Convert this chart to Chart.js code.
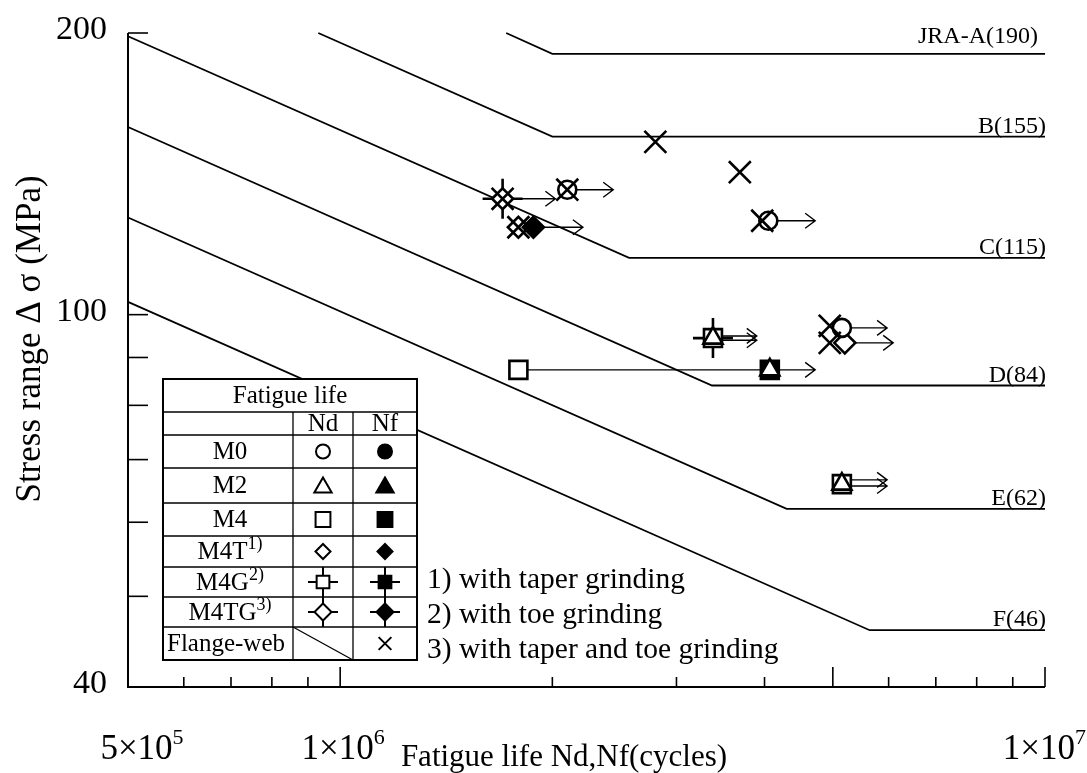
<!DOCTYPE html>
<html><head><meta charset="utf-8">
<script src="https://cdn.jsdelivr.net/npm/chart.js@4/dist/chart.umd.min.js"></script>
<style>html,body{margin:0;padding:0;background:#fff;}#wrap{width:1087px;height:773px;position:relative;}</style>
</head><body><div id="wrap"><canvas id="c" width="1087" height="773"></canvas></div>
<script>
// ---------- data ----------
const xMin = 5e5, xMax = 1e7, yMin = 40, yMax = 200;
const yTickValues = [200, 100, 90, 80, 70, 60, 50, 40];
const yLabelValues = [200, 100, 40];
const yLabelTexts = ['200', '100', '40'];
const xTickValues = [6e5, 7e5, 8e5, 9e5, 1e6, 2e6, 3e6, 4e6, 5e6, 6e6, 7e6, 8e6, 9e6, 1e7];
const xMajorValues = [1e6, 5e6, 1e7];
const xLabelValues = [5e5, 1e6, 1e7];
const xLabelMantissa = ['5', '1', '1'];
const xLabelExponent = ['5', '6', '7'];

// design curves (fatigue strength categories)
const curveNames  = ['JRA-A(190)', 'B(155)', 'C(115)', 'D(84)', 'E(62)', 'F(46)'];
const curveStartN = [1.72e6, 9.31e5, 5e5, 5e5, 5e5, 5e5];
const curveStartS = [200, 200, 198.4, 158.7, 127, 103.2];
const curveKneeN  = [2.0e6, 2.0e6, 2.57e6, 3.37e6, 4.30e6, 5.64e6];
const curveKneeS  = [190, 155, 115, 84, 62, 46];
const curveEndN   = [1e7, 1e7, 1e7, 1e7, 1e7, 1e7];

// test results [N, stress range]
const m0Nd   = [[2.10e6, 136], [4.05e6, 126], [5.15e6, 96.8]];
const m2Nd   = [[3.38e6, 94.4], [4.07e6, 87.3], [5.15e6, 65.9]];
const m4Nd   = [[1.79e6, 87.3], [5.15e6, 65.9]];
const m4Nf   = [[4.07e6, 87.3]];
const m4tNd  = [[1.79e6, 124], [5.2e6, 93.3]];
const m4tNf  = [[1.88e6, 124]];
const m4gNd  = [[3.38e6, 94.4]];
const m4tgNd = [[1.70e6, 133]];
const flangeWeb = [[2.80e6, 153], [3.69e6, 142], [2.10e6, 136], [1.70e6, 133], [1.79e6, 124], [3.97e6, 126], [4.95e6, 97.3], [4.95e6, 93.3]];

// run-out arrows (from N, to N, stress)
const runFromN = [1.70e6, 2.10e6, 1.88e6, 4.05e6, 3.38e6, 3.38e6, 4.07e6, 5.15e6, 5.2e6, 5.15e6, 5.15e6];
const runToN   = [2.02e6, 2.44e6, 2.21e6, 4.72e6, 3.90e6, 3.90e6, 4.72e6, 5.97e6, 6.09e6, 5.97e6, 5.97e6];
const runS     = [133, 136, 124, 126, 94.9, 93.9, 87.3, 96.8, 93.3, 66.6, 65.6];
// Nd-Nf connector
const linkFromN = [1.79e6], linkToN = [4.07e6], linkS = [87.3];

// legend texts
const legendTitle = 'Fatigue life';
const legendCols = ['Nd', 'Nf'];
const legendLabels = ['M0', 'M2', 'M4', 'M4T', 'M4G', 'M4TG', 'Flange-web'];
const legendSups = ['', '', '', '1)', '2)', '3)', ''];
const footnotes = ['1) with taper grinding', '2) with toe grinding', '3) with taper and toe grinding'];
const xTitle = 'Fatigue life Nd,Nf(cycles)';
const yTitle = 'Stress range \u0394 \u03c3 (MPa)';

// ---------- chart ----------
const FONT = '"Liberation Serif", "Times New Roman", serif';
const pts = a => a.map(p => ({x: p[0], y: p[1]}));
const datasets = [];
curveNames.forEach((n, i) => {
  datasets.push({label: n, data: [{x: curveStartN[i], y: curveStartS[i]}, {x: curveKneeN[i], y: curveKneeS[i]}, {x: curveEndN[i], y: curveKneeS[i]}],
    showLine: true, borderColor: '#000', borderWidth: 1.8, pointRadius: 0, order: 100, clip: false});
});
function mk(label, data, style, r, filled, order, bw) {
  datasets.push({label, data: pts(data), pointStyle: style, pointRadius: r, pointBorderWidth: bw || 2.6,
    pointBorderColor: '#000', pointBackgroundColor: filled ? '#000' : '#fff', showLine: false, order, clip: false});
}
mk('M4G cross', m4gNd, 'cross', 20, false, 60);
mk('M4TG cross', m4tgNd, 'cross', 20, false, 60);
mk('M4 Nf', m4Nf, 'rect', 12.7, true, 40);
mk('M4 Nd', m4Nd, 'rect', 12.7, false, 40);
mk('M4G Nd', m4gNd, 'rect', 12.7, false, 40);
mk('M4T Nd', m4tNd, 'rectRot', 10.5, false, 40);
mk('M4TG Nd', m4tgNd, 'rectRot', 10.5, false, 40);
mk('M4T Nf', m4tNf, 'rectRot', 10.5, true, 35);
mk('M2 Nd', m2Nd, 'triangle', 11, false, 30);
mk('M0 Nd', m0Nd, 'circle', 9, false, 30);
mk('Flange-web', flangeWeb, 'crossRot', 15.5, false, 10);

const decor = {
  id: 'decor',
  beforeDatasetsDraw(chart) {
    const ctx = chart.ctx, xs = chart.scales.x, ys = chart.scales.y;
    ctx.save();
    ctx.strokeStyle = '#000'; ctx.lineWidth = 1.4;
    for (let i = 0; i < runS.length; i++) {
      const x1 = xs.getPixelForValue(runFromN[i]), x2 = xs.getPixelForValue(runToN[i]), y = ys.getPixelForValue(runS[i]);
      ctx.beginPath(); ctx.moveTo(x1, y); ctx.lineTo(x2, y);
      ctx.moveTo(x2 - 10, y - 7.5); ctx.lineTo(x2, y); ctx.lineTo(x2 - 10, y + 7.5); ctx.stroke();
    }
    for (let i = 0; i < linkS.length; i++) {
      const y = ys.getPixelForValue(linkS[i]);
      ctx.beginPath(); ctx.moveTo(xs.getPixelForValue(linkFromN[i]), y); ctx.lineTo(xs.getPixelForValue(linkToN[i]), y); ctx.stroke();
    }
    ctx.restore();
  },
  afterDraw(chart) {
    const ctx = chart.ctx, xs = chart.scales.x, ys = chart.scales.y, a = chart.chartArea;
    ctx.save();
    ctx.strokeStyle = '#000'; ctx.fillStyle = '#000';
    // axes
    ctx.lineWidth = 2;
    ctx.beginPath(); ctx.moveTo(a.left, a.top); ctx.lineTo(a.left, a.bottom); ctx.lineTo(a.right, a.bottom); ctx.stroke();
    ctx.lineWidth = 1.6;
    yTickValues.forEach(v => { const y = ys.getPixelForValue(v); ctx.beginPath(); ctx.moveTo(a.left, y); ctx.lineTo(a.left + 20, y); ctx.stroke(); });
    xTickValues.forEach(v => { const x = xs.getPixelForValue(v); const L = xMajorValues.includes(v) ? 20 : 10;
      ctx.beginPath(); ctx.moveTo(x, a.bottom); ctx.lineTo(x, a.bottom - L); ctx.stroke(); });
    // y labels
    ctx.font = '34px ' + FONT; ctx.textAlign = 'right'; ctx.textBaseline = 'middle';
    yLabelValues.forEach((v, i) => ctx.fillText(yLabelTexts[i], 107, ys.getPixelForValue(v) - 3));
    // x labels
    const xLabelShift = [14, 3, 0];
    xLabelValues.forEach((v, i) => {
      const main = xLabelMantissa[i] + '\u00d710';
      ctx.font = '35px ' + FONT; const w1 = ctx.measureText(main).width;
      ctx.font = '22px ' + FONT; const w2 = ctx.measureText(xLabelExponent[i]).width;
      let x0 = xs.getPixelForValue(v) + xLabelShift[i] - (w1 + w2) / 2;
      if (x0 + w1 + w2 > 1086) x0 = 1086 - w1 - w2;
      ctx.textAlign = 'left'; ctx.textBaseline = 'alphabetic';
      ctx.font = '35px ' + FONT; ctx.fillText(main, x0, 759);
      ctx.font = '22px ' + FONT; ctx.fillText(xLabelExponent[i], x0 + w1, 744);
    });
    // titles
    ctx.font = '31px ' + FONT; ctx.textAlign = 'center'; ctx.textBaseline = 'alphabetic';
    ctx.fillText(xTitle, 564, 766);
    ctx.font = '35px ' + FONT;
    ctx.save(); ctx.translate(40, 339); ctx.rotate(-Math.PI / 2); ctx.fillText(yTitle, 0, 0); ctx.restore();
    // curve labels
    ctx.font = '24px ' + FONT; ctx.textAlign = 'right'; ctx.textBaseline = 'alphabetic';
    curveNames.forEach((n, i) => {
      const y = ys.getPixelForValue(curveKneeS[i]);
      ctx.fillText(n, i === 0 ? 1038 : 1046, y - (i === 0 ? 11 : 4));
    });
    // legend table
    const L = 163, R = 417, c1 = 293, c2 = 353;
    const rows = [379, 412, 435, 468, 503, 536, 567, 597, 627, 660];
    ctx.fillStyle = '#fff'; ctx.fillRect(L, rows[0], R - L, rows[rows.length - 1] - rows[0]); ctx.fillStyle = '#000';
    ctx.lineWidth = 1.3;
    for (let i = 1; i < rows.length - 1; i++) { ctx.beginPath(); ctx.moveTo(L, rows[i]); ctx.lineTo(R, rows[i]); ctx.stroke(); }
    [c1, c2].forEach(c => { ctx.beginPath(); ctx.moveTo(c, rows[1]); ctx.lineTo(c, rows[9]); ctx.stroke(); });
    ctx.beginPath(); ctx.moveTo(c1, rows[8]); ctx.lineTo(c2, rows[9]); ctx.stroke();
    ctx.lineWidth = 2; ctx.strokeRect(L, rows[0], R - L, rows[9] - rows[0]);
    ctx.font = '25px ' + FONT; ctx.textAlign = 'center'; ctx.textBaseline = 'middle';
    ctx.fillText(legendTitle, (L + R) / 2, (rows[0] + rows[1]) / 2 + 1);
    ctx.fillText(legendCols[0], (c1 + c2) / 2, (rows[1] + rows[2]) / 2 + 1);
    ctx.fillText(legendCols[1], (c2 + R) / 2, (rows[1] + rows[2]) / 2 + 1);
    const cxNd = 323, cxNf = 385;
    const sym = [['circle', 7], ['triangle', 10], ['rect', 10.5], ['rectRot', 7.5], ['rect', 9], ['rectRot', 8.5], [null, 0]];
    legendLabels.forEach((lab, i) => {
      const yc = (rows[i + 2] + rows[i + 3]) / 2;
      ctx.font = '25px ' + FONT;
      if (i === 6) { ctx.textAlign = 'left'; ctx.fillText(lab, L + 4, yc + 1); }
      else {
        const w1 = ctx.measureText(lab).width; ctx.font = '18px ' + FONT; const w2 = ctx.measureText(legendSups[i]).width;
        const x0 = 230 - (w1 + w2) / 2; ctx.textAlign = 'left';
        ctx.font = '25px ' + FONT; ctx.fillText(lab, x0, yc + 1);
        ctx.font = '18px ' + FONT; ctx.fillText(legendSups[i], x0 + w1, yc - 7);
      }
      ctx.lineWidth = 2;
      if (i === 4 || i === 5) {
        [cxNd, cxNf].forEach(cx => Chart.helpers.drawPoint(ctx, {pointStyle: 'cross', radius: 15, rotation: 0, borderWidth: 2}, cx, yc));
      }
      const yOff = sym[i][0] === 'triangle' ? 2 : 0;
      if (sym[i][0]) {
        ctx.fillStyle = '#fff';
        Chart.helpers.drawPoint(ctx, {pointStyle: sym[i][0], radius: sym[i][1], rotation: 0, borderWidth: 2}, cxNd, yc + yOff);
        ctx.fillStyle = '#000';
        Chart.helpers.drawPoint(ctx, {pointStyle: sym[i][0], radius: sym[i][1], rotation: 0, borderWidth: 2}, cxNf, yc + yOff);
      } else {
        Chart.helpers.drawPoint(ctx, {pointStyle: 'crossRot', radius: 9, rotation: 0, borderWidth: 2}, cxNf, yc);
      }
    });
    // footnotes
    ctx.fillStyle = '#000'; ctx.font = '29.5px ' + FONT; ctx.textAlign = 'left'; ctx.textBaseline = 'middle';
    footnotes.forEach((t, i) => ctx.fillText(t, 427, 580 + i * 35));
    ctx.restore();
  }
};

new Chart(document.getElementById('c'), {
  type: 'scatter',
  data: {datasets},
  options: {
    responsive: false, animation: false, events: [],
    layout: {padding: {left: 128, right: 42, top: 33, bottom: 86}},
    plugins: {legend: {display: false}, tooltip: {enabled: false}},
    scales: {
      x: {type: 'logarithmic', min: xMin, max: xMax, display: false},
      y: {type: 'logarithmic', min: yMin, max: yMax, display: false}
    }
  },
  plugins: [decor]
});
</script></body></html>
